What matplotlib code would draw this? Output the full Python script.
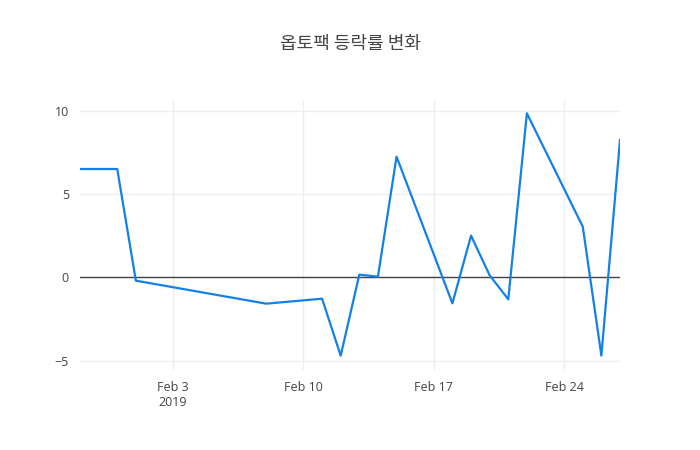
import numpy as np
import pandas as pd
from matplotlib import pyplot as plt
import matplotlib.dates as mdates

# data
dates = ["2019-01-29", "2019-01-31", "2019-02-01", "2019-02-08", "2019-02-11",
         "2019-02-12", "2019-02-13", "2019-02-14", "2019-02-15", "2019-02-18",
         "2019-02-19", "2019-02-20", "2019-02-21", "2019-02-22", "2019-02-25",
         "2019-02-26", "2019-02-27"]
change = [6.5, 6.5, -0.2, -1.58, -1.28, -4.7, 0.16, 0.04, 7.24, -1.56,
          2.5, 0.12, -1.32, 9.84, 3.04, -4.7, 8.24]
xticks = ["2019-02-03", "2019-02-10", "2019-02-17", "2019-02-24"]
xticklabels = ["Feb 3\n2019", "Feb 10", "Feb 17", "Feb 24"]
yticks = [-5, 0, 5, 10]

plt.rcParams['font.family'] = ['Noto Sans CJK KR', 'Open Sans', 'DejaVu Sans']

x = pd.to_datetime(dates)
fig = plt.figure(figsize=(7, 4.5), dpi=100)
ax = fig.add_axes([80/700, 1-370/450, 540/700, 270/450])

ax.plot(x, change, color='#1380e8', lw=1.6, zorder=3)
ax.axhline(0, color='#444444', lw=1, zorder=2)

ax.set_xlim(x[0], x[-1])
ax.set_ylim(-5.56, 10.64)
ax.set_xticks(pd.to_datetime(xticks))
ax.set_xticklabels(xticklabels)
ax.set_yticks(yticks)
ax.grid(True, color='#eeeeee', lw=1, zorder=0)
for s in ax.spines.values():
    s.set_visible(False)
ax.tick_params(length=0, labelsize=9, labelcolor='#444444', pad=8)
for lab in ax.get_xticklabels():
    lab.set_family(['Open Sans', 'DejaVu Sans'])
for lab in ax.get_yticklabels():
    lab.set_family(['Open Sans', 'DejaVu Sans'])

fig.text(0.5, 1-44/450, "옵토팩 등락률 변화", ha='center', va='center',
         fontsize=13, color='#444444')

fig.savefig("out.png", dpi=100)
